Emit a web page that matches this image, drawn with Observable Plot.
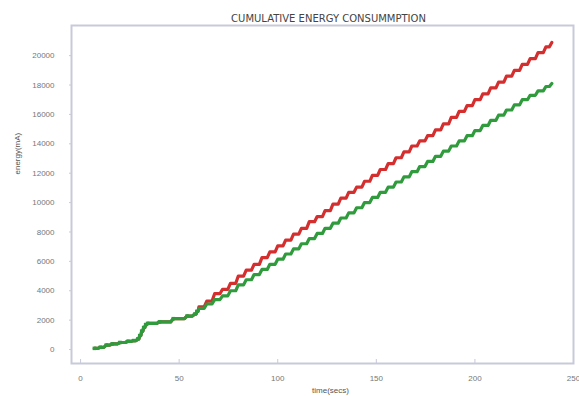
<!DOCTYPE html>
<html><head><meta charset="utf-8">
<script src="https://cdn.jsdelivr.net/npm/d3@7"></script>
<script src="https://cdn.jsdelivr.net/npm/@observablehq/plot@0.6"></script>
<style>body{margin:0;background:#fff}</style>
</head><body><div id="chart"></div>
<script>
const title = "CUMULATIVE ENERGY CONSUMMPTION";
const xLabel = "time(secs)";
const yLabel = "energy(mA)";
const xTicks = [0, 50, 100, 150, 200, 250];
const yTicks = [0, 2000, 4000, 6000, 8000, 10000, 12000, 14000, 16000, 18000, 20000];

// shared early segment (both series coincide)
const earlyTime = [7, 10, 13, 16, 20, 24, 27, 29, 30, 31, 32, 33, 34, 40, 47, 54, 58, 59];
const earlyEnergy = [80, 150, 300, 380, 480, 560, 610, 720, 950, 1250, 1500, 1700, 1780, 1880, 2100, 2280, 2420, 2600];

const lateTime = [60, 64, 68, 72, 76, 80, 84, 88, 92, 96, 100, 104, 108, 112, 116, 120, 124, 128, 132, 136, 140, 144, 148, 152, 156, 160, 164, 168, 172, 176, 180, 184, 188, 192, 196, 200, 204, 208, 212, 216, 220, 224, 228, 232, 236, 239];
const redEnergy = [2900, 3300, 3800, 4100, 4500, 5000, 5400, 5800, 6250, 6650, 7050, 7450, 7850, 8250, 8700, 9050, 9450, 9900, 10300, 10700, 11050, 11450, 11850, 12250, 12650, 13050, 13450, 13850, 14200, 14550, 14950, 15350, 15800, 16200, 16600, 17000, 17400, 17800, 18200, 18600, 19000, 19400, 19800, 20200, 20600, 20900];
const greenEnergy = [2800, 3100, 3400, 3650, 4000, 4400, 4750, 5100, 5450, 5800, 6150, 6500, 6850, 7200, 7550, 7900, 8250, 8600, 8950, 9300, 9650, 10000, 10350, 10700, 11050, 11400, 11750, 12100, 12450, 12800, 13150, 13500, 13850, 14200, 14550, 14900, 15250, 15600, 15950, 16300, 16650, 17000, 17300, 17600, 17900, 18100];

const redColor = "#d42e2e";
const greenColor = "#2f9b3c";

const early = earlyTime.map((t, i) => ({t, v: earlyEnergy[i]}));
const build = (vals) => early.concat(lateTime.map((t, i) => ({t, v: vals[i]})));
const redSeries = build(redEnergy);
const greenSeries = build(greenEnergy);

// staircase curve with slanted risers (how the sampled steps render in the original)
function slantStep(context) {
  let x0, y0, first;
  return {
    areaStart() {}, areaEnd() {},
    lineStart() { first = true; },
    lineEnd() {},
    point(x, y) {
      x = +x; y = +y;
      if (first) { context.moveTo(x, y); first = false; }
      else {
        const dx = x - x0;
        const xm = x - Math.min(2.6, dx * 0.4);
        context.lineTo(xm, y0);
        context.lineTo(x, y);
      }
      x0 = x; y0 = y;
    }
  };
}

const chart = Plot.plot({
  width: 579, height: 396,
  marginLeft: 71, marginRight: 6, marginTop: 25, marginBottom: 33,
  style: {fontFamily: "'Liberation Sans', Arial, sans-serif", fontSize: "8px", color: "#666", background: "#fff"},
  x: {domain: [-4.6, 250]},
  y: {domain: [-950, 22050]},
  marks: [
    Plot.frame({stroke: "#c7cad9", strokeWidth: 2}),
    Plot.axisX(xTicks, {tickSize: 0, tickPadding: 12, label: null, fill: "#777"}),
    Plot.axisY(yTicks, {tickSize: 0, tickPadding: 17, label: null, fill: "#777", tickFormat: d3.format("d")}),
    Plot.tickY(yTicks, {y: d => d, stroke: "#c7cad9", insetRight: 504}),
    Plot.tickX(xTicks, {x: d => d, stroke: "#c7cad9", insetTop: 334}),
    Plot.line(redSeries, {x: "t", y: "v", curve: slantStep, stroke: redColor, strokeWidth: 3.2, strokeLinejoin: "round"}),
    Plot.line(greenSeries, {x: "t", y: "v", curve: slantStep, stroke: greenColor, strokeWidth: 3.2, strokeLinejoin: "round"}),
    Plot.dot(early, {x: "t", y: "v", symbol: "square", r: 2, fill: greenColor}),
    Plot.text([title], {frameAnchor: "top", dx: 6, dy: -11, fontSize: 10, fontFamily: "'DejaVu Sans', sans-serif", fill: "#444"}),
    Plot.text([xLabel], {frameAnchor: "bottom", dx: 8, dy: 29, fontSize: 8, fill: "#555"}),
    Plot.text([yLabel], {frameAnchor: "left", dx: -54, dy: -20, rotate: -90, fontSize: 8, fill: "#555"})
  ]
});
document.getElementById("chart").append(chart);
</script>
</body></html>
